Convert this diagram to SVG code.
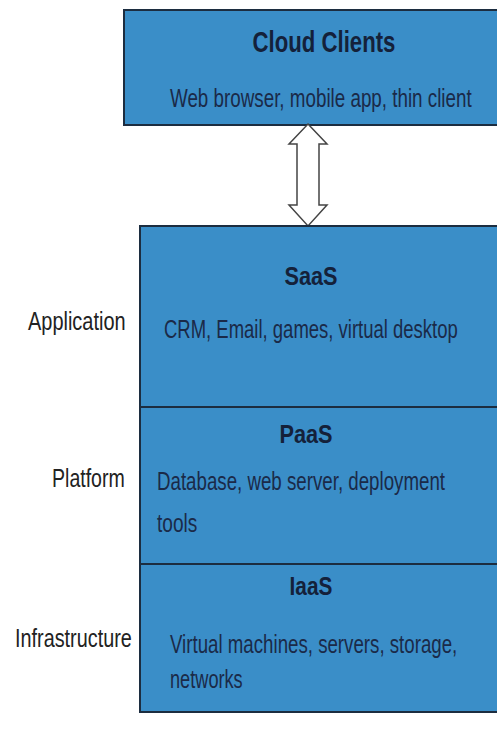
<svg xmlns="http://www.w3.org/2000/svg" width="497" height="733" viewBox="0 0 497 733">
  <style>
    .box { fill: #3a8ec8; stroke: #1c2d40; stroke-width: 2; }
    .title { font-family: "Liberation Sans", Arial, sans-serif; font-weight: bold; fill: #14213a; text-anchor: middle; }
    .body { font-family: "Liberation Sans", Arial, sans-serif; font-size: 26px; fill: #1a2a48; }
    .side { font-family: "Liberation Sans", Arial, sans-serif; font-size: 25px; fill: #222; }
  </style>

  <rect width="497" height="733" fill="#ffffff"/>

  <!-- client tier -->
  <g id="cloud-clients">
    <rect class="box" x="124" y="10" width="380" height="115"/>
    <text class="title" transform="translate(324,52) scale(0.74,1)" font-size="30" textLength="193" lengthAdjust="spacingAndGlyphs">Cloud Clients</text>
    <text class="body" transform="translate(170,107) scale(0.72,1)" textLength="419" lengthAdjust="spacingAndGlyphs">Web browser, mobile app, thin client</text>
  </g>

  <!-- link between clients and the service stack -->
  <g id="connectors">
    <path d="M308,124 L327,144 L319,144 L319,205 L327,205 L308,226 L289,205 L297,205 L297,144 L289,144 Z"
          fill="#ffffff" stroke="#444" stroke-width="1.5" stroke-linejoin="miter"/>
  </g>

  <!-- service layers -->
  <g id="saas">
    <rect class="box" x="140" y="226" width="364" height="181"/>
    <text class="title" transform="translate(311,285) scale(0.87,1)" font-size="25" textLength="61" lengthAdjust="spacingAndGlyphs">SaaS</text>
    <text class="body" transform="translate(164,338) scale(0.72,1)" textLength="408" lengthAdjust="spacingAndGlyphs">CRM, Email, games, virtual desktop</text>
  </g>
  <g id="paas">
    <rect class="box" x="140" y="407" width="364" height="157"/>
    <text class="title" transform="translate(306,443) scale(0.87,1)" font-size="25" textLength="61" lengthAdjust="spacingAndGlyphs">PaaS</text>
    <text class="body" transform="translate(157,490) scale(0.72,1)" textLength="400" lengthAdjust="spacingAndGlyphs">Database, web server, deployment</text>
    <text class="body" transform="translate(157,532) scale(0.72,1)" textLength="56" lengthAdjust="spacingAndGlyphs">tools</text>
  </g>
  <g id="iaas">
    <rect class="box" x="140" y="564" width="364" height="148"/>
    <text class="title" transform="translate(311,595) scale(0.84,1)" font-size="25" textLength="51" lengthAdjust="spacingAndGlyphs">IaaS</text>
    <text class="body" transform="translate(170,653) scale(0.72,1)" textLength="399" lengthAdjust="spacingAndGlyphs">Virtual machines, servers, storage,</text>
    <text class="body" transform="translate(170,688) scale(0.72,1)" textLength="101" lengthAdjust="spacingAndGlyphs">networks</text>
  </g>

  <!-- layer names -->
  <g id="layer-labels">
    <text class="side" transform="translate(28,330) scale(0.8,1)" textLength="122" lengthAdjust="spacingAndGlyphs">Application</text>
    <text class="side" transform="translate(52,487) scale(0.8,1)" textLength="91" lengthAdjust="spacingAndGlyphs">Platform</text>
    <text class="side" transform="translate(15,647) scale(0.8,1)" textLength="146" lengthAdjust="spacingAndGlyphs">Infrastructure</text>
  </g>
</svg>
